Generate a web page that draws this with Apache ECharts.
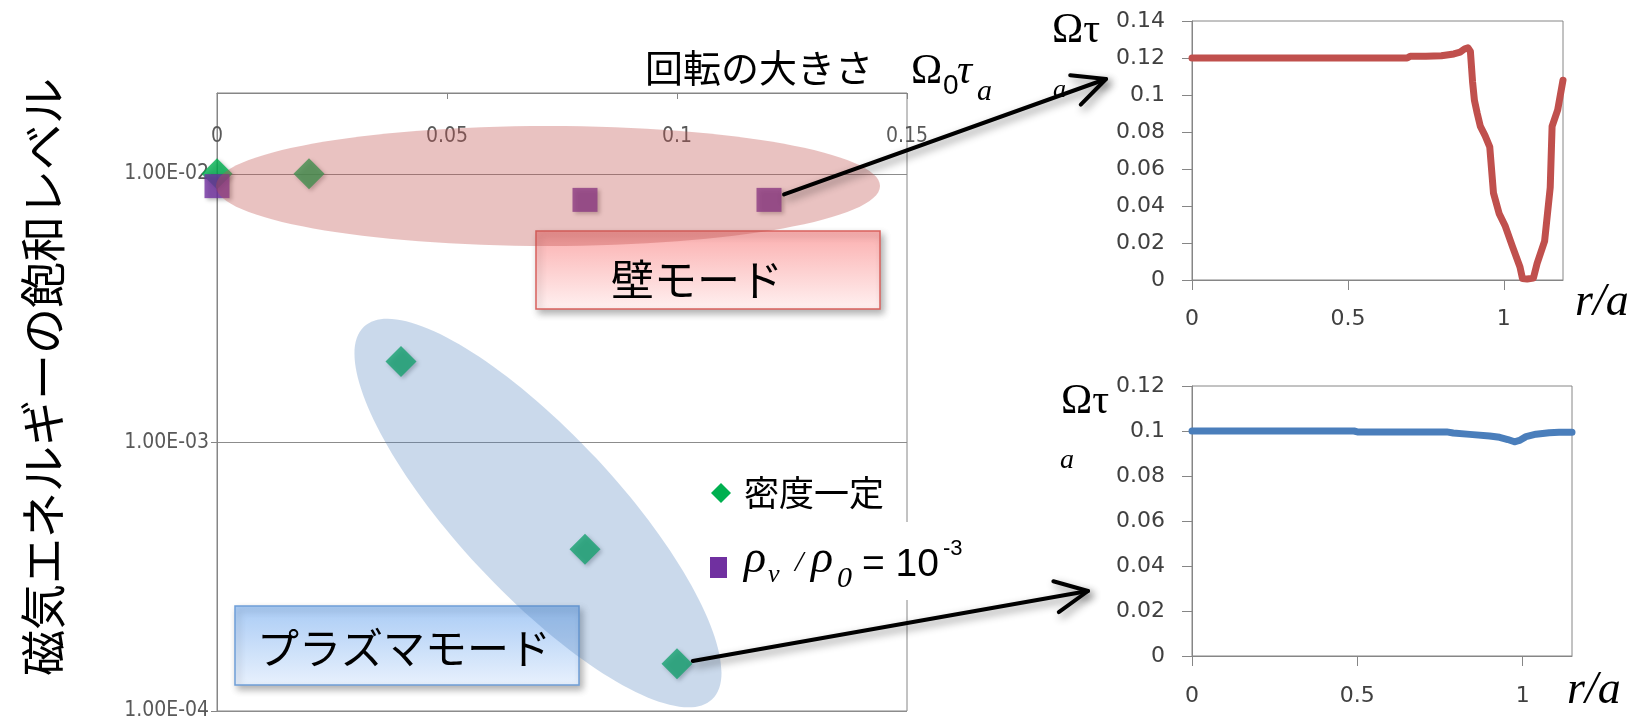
<!DOCTYPE html>
<html>
<head>
<meta charset="utf-8">
<script src="https://cdn.jsdelivr.net/npm/echarts@6.0.0/dist/echarts.min.js"></script>
<style>
  html, body { margin: 0; padding: 0; background: #fff; }
  #chart { width: 1637px; height: 725px; }
</style>
</head>
<body>
<div id="chart"></div>
<script>
// Saturated magnetic energy vs. rotation strength Ω0τa
const rotConst = [0, 0.02, 0.04, 0.08, 0.1];          // 密度一定
const energyConst = [0.01, 0.01, 0.002, 0.0004, 0.00015];
const rotRho = [0, 0.08, 0.12];                          // ρv/ρ0 = 10^-3
const energyRho = [0.009, 0.008, 0.008];
const rotTicks = [0, 0.05, 0.1, 0.15];
const energyTicks = [1e-4, 1e-3, 1e-2];

// Rotation profile Ωτa(r/a), wall-mode case
const rWall = [0, 0.1, 0.2, 0.3, 0.4, 0.5, 0.6, 0.69, 0.70, 0.75, 0.80, 0.84, 0.86, 0.875, 0.885, 0.893,
  0.90, 0.906, 0.915, 0.925, 0.94, 0.955, 0.967, 0.985, 1.005, 1.028, 1.052, 1.06, 1.075, 1.095, 1.107, 1.131,
  1.149, 1.155, 1.173, 1.19];
const omegaWall = [0.12, 0.12, 0.12, 0.12, 0.12, 0.12, 0.12, 0.12, 0.121, 0.121, 0.1212, 0.1222, 0.1232, 0.125, 0.1255, 0.1235,
  0.107, 0.097, 0.09, 0.083, 0.078, 0.072, 0.047, 0.036, 0.029, 0.018, 0.007, 0.0008, 0.0005, 0.001, 0.009, 0.021,
  0.05, 0.083, 0.092, 0.108];
// Rotation profile, plasma-mode case
const rPlasma = [0, 0.1, 0.2, 0.3, 0.4, 0.49, 0.50, 0.6, 0.7, 0.77, 0.79, 0.84, 0.9, 0.93, 0.955, 0.975, 0.99, 1.01, 1.04, 1.08, 1.11, 1.149];
const omegaPlasma = [0.1, 0.1, 0.1, 0.1, 0.1, 0.1, 0.0996, 0.0996, 0.0996, 0.0996, 0.0991, 0.0985, 0.0978, 0.0972, 0.0962, 0.0952, 0.0958, 0.0975, 0.0986, 0.0992, 0.0994, 0.0994];
const rTicks = [0, 0.5, 1];

const zip = (a, b) => a.map((v, i) => [v, b[i]]);
const TICK_FONT = "'DejaVu Sans', 'Liberation Sans', sans-serif";
const NARROW = "'Liberation Sans Narrow', 'Arial Narrow', 'DejaVu Sans Condensed', sans-serif";
const CJK = "'Noto Sans CJK JP', sans-serif";
const SERIF = "'Liberation Serif', 'DejaVu Serif', serif";
const SANS = "'Liberation Sans', Arial, sans-serif";
const GRAY = '#868686';

function fmtE(v) {
  const e = Math.round(Math.log10(v));
  const m = v / Math.pow(10, e);
  return m.toFixed(2) + 'E' + (e < 0 ? '-' : '+') + String(Math.abs(e)).padStart(2, '0');
}

const line = { show: true, lineStyle: { color: GRAY, width: 1 } };

const option = {
  animation: false,
  backgroundColor: '#fff',
  grid: [
    { left: 217, top: 93, width: 690, height: 618, show: true, borderColor: GRAY, borderWidth: 1 },
    { left: 1192, top: 21, width: 371, height: 259, show: true, borderColor: GRAY, borderWidth: 1 },
    { left: 1192, top: 386, width: 380, height: 270, show: true, borderColor: GRAY, borderWidth: 1 }
  ],
  xAxis: [
    {
      gridIndex: 0, type: 'value', position: 'top', min: 0, max: 0.15, interval: 0.05,
      axisLine: line,
      axisTick: { show: true, inside: true, length: 6, lineStyle: { color: GRAY } },
      axisLabel: { inside: true, margin: 33, color: '#595959', fontSize: 21, fontFamily: NARROW },
      splitLine: { show: false }
    },
    {
      gridIndex: 1, type: 'value', min: 0, max: 1.19,
      axisLine: line,
      axisTick: { show: true, length: 10, customValues: rTicks, lineStyle: { color: GRAY } },
      axisLabel: { margin: 28, color: '#404040', fontSize: 22, fontFamily: TICK_FONT, customValues: rTicks },
      splitLine: { show: false }
    },
    {
      gridIndex: 2, type: 'value', min: 0, max: 1.149,
      axisLine: line,
      axisTick: { show: true, length: 10, customValues: rTicks, lineStyle: { color: GRAY } },
      axisLabel: { margin: 29, color: '#404040', fontSize: 22, fontFamily: TICK_FONT, customValues: rTicks },
      splitLine: { show: false }
    }
  ],
  yAxis: [
    {
      gridIndex: 0, type: 'log', logBase: 10, min: 1e-4, max: 0.02,
      axisLine: line,
      axisTick: { show: true, length: 6, customValues: energyTicks, lineStyle: { color: GRAY } },
      axisLabel: { margin: 8, color: '#595959', fontSize: 21, fontFamily: NARROW, customValues: energyTicks, formatter: fmtE },
      splitLine: { show: true, lineStyle: { color: '#8c8c8c', width: 1 } }
    },
    {
      gridIndex: 1, type: 'value', min: 0, max: 0.14, interval: 0.02,
      axisLine: line,
      axisTick: { show: true, length: 10, lineStyle: { color: GRAY } },
      axisLabel: { margin: 27, color: '#404040', fontSize: 22, fontFamily: TICK_FONT },
      splitLine: { show: false }
    },
    {
      gridIndex: 2, type: 'value', min: 0, max: 0.12, interval: 0.02,
      axisLine: line,
      axisTick: { show: true, length: 10, lineStyle: { color: GRAY } },
      axisLabel: { margin: 27, color: '#404040', fontSize: 22, fontFamily: TICK_FONT },
      splitLine: { show: false }
    }
  ],
  series: [
    {
      name: '密度一定', type: 'scatter', xAxisIndex: 0, yAxisIndex: 0,
      symbol: 'diamond', symbolSize: 31,
      itemStyle: { color: '#00b050', shadowBlur: 4, shadowColor: 'rgba(0,0,0,0.35)', shadowOffsetX: 2, shadowOffsetY: 2 },
      data: zip(rotConst, energyConst)
    },
    {
      name: 'ρv/ρ0 = 10^-3', type: 'scatter', xAxisIndex: 0, yAxisIndex: 0,
      symbol: 'rect', symbolSize: [25, 24],
      itemStyle: { color: '#7030a0', shadowBlur: 4, shadowColor: 'rgba(0,0,0,0.35)', shadowOffsetX: 2, shadowOffsetY: 2 },
      data: zip(rotRho, energyRho)
    },
    {
      type: 'line', xAxisIndex: 1, yAxisIndex: 1, showSymbol: false, smooth: false,
      lineStyle: { color: '#c0504d', width: 7, cap: 'round', join: 'round' },
      data: zip(rWall, omegaWall)
    },
    {
      type: 'line', xAxisIndex: 2, yAxisIndex: 2, showSymbol: false, smooth: false,
      lineStyle: { color: '#4a7ebb', width: 7, cap: 'round', join: 'round' },
      data: zip(rPlasma, omegaPlasma)
    }
  ]
};

const chart = echarts.init(document.getElementById('chart'), null, { renderer: 'canvas' });
chart.setOption(option);

const toPx = (x, y) => chart.convertToPixel({ xAxisIndex: 0, yAxisIndex: 0 }, [x, y]);

function txt(x, y, text, font, extra, z) {
  return {
    type: 'text', x: x, y: y, z: z || 30,
    style: Object.assign({ text: text, font: font, fill: '#000', align: 'left', verticalAlign: 'middle' }, extra || {})
  };
}

function arrow(from, to, z) {
  const ang = Math.atan2(to[1] - from[1], to[0] - from[0]);
  const start = [from[0] + 16 * Math.cos(ang), from[1] + 16 * Math.sin(ang)];
  const L = 36, spread = 0.45;
  const w1 = [to[0] - L * Math.cos(ang - spread), to[1] - L * Math.sin(ang - spread)];
  const w2 = [to[0] - L * Math.cos(ang + spread), to[1] - L * Math.sin(ang + spread)];
  const style = {
    stroke: '#000', lineWidth: 4, lineCap: 'round', lineJoin: 'round', fill: null,
    shadowBlur: 8, shadowColor: 'rgba(0,0,0,0.45)', shadowOffsetX: 3, shadowOffsetY: 4
  };
  return [
    { type: 'polyline', z: z, shape: { points: [start, to] }, style: style },
    { type: 'polyline', z: z, shape: { points: [w1, to, w2] }, style: style }
  ];
}

const boxShadow = { shadowBlur: 7, shadowColor: 'rgba(0,0,0,0.3)', shadowOffsetX: 3, shadowOffsetY: 4 };
const wallFill = new echarts.graphic.LinearGradient(0, 0, 0, 1, [
  { offset: 0, color: '#fbaeae' }, { offset: 1, color: '#fff1f1' }
]);
const plasmaFill = new echarts.graphic.LinearGradient(0, 0, 0, 1, [
  { offset: 0, color: '#a9cbf5' }, { offset: 1, color: '#e8f1fd' }
]);

const sqPx = toPx(rotRho[2], energyRho[2]);
const dmPx = toPx(rotConst[4], energyConst[4]);

const graphics = [
  // mode labels
  { type: 'rect', z: 10, shape: { x: 536, y: 231, width: 344, height: 78 },
    style: Object.assign({ fill: wallFill, stroke: '#d9625e', lineWidth: 1.5 }, boxShadow) },
  { type: 'rect', z: 10, shape: { x: 235, y: 606, width: 344, height: 79 },
    style: Object.assign({ fill: plasmaFill, stroke: '#6f9fd8', lineWidth: 1.5 }, boxShadow) },
  // groupings
  { type: 'ellipse', z: 20, x: 548, y: 186, shape: { cx: 0, cy: 0, rx: 332, ry: 60 },
    style: { fill: 'rgba(192,80,77,0.35)' } },
  { type: 'ellipse', z: 20, x: 538, y: 513, rotation: -47 * Math.PI / 180, shape: { cx: 0, cy: 0, rx: 255, ry: 80 },
    style: { fill: 'rgba(79,129,189,0.3)' } },
  txt(697, 280, '壁モード', '43px ' + CJK, { align: 'center' }),
  txt(404, 648, 'プラズマモード', '42px ' + CJK, { align: 'center' }),

  // axis titles of the main chart
  txt(645, 68, '回転の大きさ', '38px ' + CJK),
  txt(911, 72, 'Ω', '42px ' + SERIF),
  txt(943, 86, '0', '28px ' + SANS),
  txt(957, 72, 'τ', 'italic 42px ' + SERIF),
  txt(977, 92, 'a', 'italic 30px ' + SERIF),
  { type: 'text', z: 30, x: 43, y: 377, rotation: Math.PI / 2,
    style: { text: '磁気エネルギーの飽和レベル', font: '46px ' + CJK, fill: '#000', align: 'center', verticalAlign: 'middle' } },

  // axis titles of the profile charts
  txt(1052, 31, 'Ωτ', '42px ' + SERIF),
  txt(1053, 90, 'a', 'italic 26px ' + SERIF),
  txt(1575, 303, 'r/a', 'italic 46px ' + SERIF),
  txt(1061, 402, 'Ωτ', '42px ' + SERIF),
  txt(1060, 461, 'a', 'italic 28px ' + SERIF),
  txt(1567, 691, 'r/a', 'italic 46px ' + SERIF),

  // legend
  { type: 'rect', z: 44, shape: { x: 740, y: 522, width: 240, height: 78 }, style: { fill: '#fff' } },
  { type: 'polygon', z: 50, shape: { points: [[721, 483], [731, 493], [721, 503], [711, 493]] }, style: { fill: '#00b050' } },
  txt(744, 493, '密度一定', '35px ' + CJK, null, 50),
  { type: 'rect', z: 50, shape: { x: 710, y: 557, width: 17, height: 21 }, style: { fill: '#7030a0' } },
  txt(744, 560, 'ρ', 'italic 46px ' + SERIF, null, 50),
  txt(768, 575, 'v', 'italic 26px ' + SERIF, null, 50),
  txt(795, 563, '/', 'italic 30px ' + SERIF, null, 50),
  txt(811, 560, 'ρ', 'italic 46px ' + SERIF, null, 50),
  txt(837, 579, '0', 'italic 30px ' + SERIF, null, 50),
  txt(862, 565, '= 10', '39px ' + SANS, null, 50),
  txt(943, 549, '-3', '22px ' + SANS, null, 50)
].concat(arrow(sqPx, [1106, 79], 40), arrow(dmPx, [1088, 591], 40));

chart.setOption({ graphic: graphics });
</script>
</body>
</html>
